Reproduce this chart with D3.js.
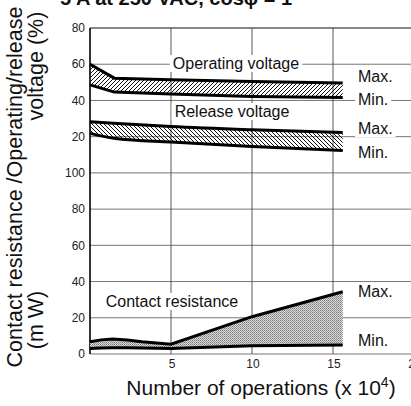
<!DOCTYPE html>
<html>
<head>
<meta charset="utf-8">
<script src="https://cdn.jsdelivr.net/npm/d3@7"></script>
<style>
  body { margin: 0; background: #fff; }
  svg { display: block; font-family: "Liberation Sans", Arial, Helvetica, sans-serif; }
</style>
</head>
<body>
<div id="root"></div>
<script>
// values
var opX   = [0, 1.5, 5, 10, 15.6];
var opMax = [60, 52.3, 51.4, 50.4, 49.6];
var opMin = [48.6, 44.6, 43.5, 42.2, 41.6];

var relX   = [0, 1.7, 5, 10, 15.6];
var relMax = [28.3, 27.3, 25.6, 23.8, 22.3];
var relMin = [21.8, 18.8, 17.0, 14.6, 12.3];

var resX   = [0, 0.7, 1.4, 2.3, 3.2, 5, 10, 15.6];
var resMax = [6.8, 7.8, 8.3, 7.7, 6.8, 5.4, 20.6, 34.4];
var resMin = [3.1, 3.3, 3.5, 3.4, 3.3, 3.1, 4.6, 5.0];

var xTicks    = [5, 10, 15, 20];
var resTicks  = [0, 20, 40, 60, 80, 100];   // lower scale (contact resistance)
var voltTicks = [20, 40, 60, 80];           // upper scale (voltage %), 0 sits on resistance 100

var width = 411, height = 406;

var svg = d3.select("#root").append("svg")
    .attr("width", width)
    .attr("height", height);

// one vertical scale: resistance r -> r, voltage v -> 100 + v
var x = d3.scaleLinear().domain([0, 20]).range([90, 414]);
var y = d3.scaleLinear().domain([0, 180]).range([354, 28]);
var yRes  = function(r) { return y(r); };
var yVolt = function(v) { return y(100 + v); };

// patterns
var defs = svg.append("defs");
defs.append("pattern")
    .attr("id", "hatchF")
    .attr("patternUnits", "userSpaceOnUse")
    .attr("width", 4).attr("height", 4)
  .append("path")
    .attr("d", "M-1,1 l2,-2 M0,4 l4,-4 M3,5 l2,-2")
    .attr("stroke", "#111").attr("stroke-width", 1);
defs.append("pattern")
    .attr("id", "hatchB")
    .attr("patternUnits", "userSpaceOnUse")
    .attr("width", 4).attr("height", 4)
  .append("path")
    .attr("d", "M-1,3 l2,2 M0,0 l4,4 M3,-1 l2,2")
    .attr("stroke", "#111").attr("stroke-width", 1);
var dots = defs.append("pattern")
    .attr("id", "dots")
    .attr("patternUnits", "userSpaceOnUse")
    .attr("width", 2).attr("height", 2);
dots.append("rect").attr("width", 2).attr("height", 2).attr("fill", "#ddd");
dots.append("rect").attr("x", 0).attr("y", 0).attr("width", 1).attr("height", 1).attr("fill", "#777");
dots.append("rect").attr("x", 1).attr("y", 1).attr("width", 1).attr("height", 1).attr("fill", "#999");

// grid
var gridVals = resTicks.concat(voltTicks.map(function(v) { return 100 + v; }));
svg.append("g").selectAll("line.h")
    .data(gridVals)
  .enter().append("line")
    .attr("x1", x(0)).attr("x2", width)
    .attr("y1", function(d) { return y(d); })
    .attr("y2", function(d) { return y(d); })
    .attr("stroke", function(d) { return d === 180 ? "#111" : "#666"; })
    .attr("stroke-width", function(d) { return d === 180 ? 1.2 : 0.9; });

svg.append("g").selectAll("line.v")
    .data(xTicks)
  .enter().append("line")
    .attr("x1", function(d) { return x(d); })
    .attr("x2", function(d) { return x(d); })
    .attr("y1", y(180)).attr("y2", y(0))
    .attr("stroke", "#444")
    .attr("stroke-width", 0.9);

// left axis line
svg.append("line")
    .attr("x1", x(0)).attr("x2", x(0))
    .attr("y1", y(180)).attr("y2", y(0))
    .attr("stroke", "#000").attr("stroke-width", 1.6);

// bands
function band(xs, lo, hi, sc, fill, curve) {
  var pts = xs.map(function(d, i) { return { x: d, lo: lo[i], hi: hi[i] }; });
  var area = d3.area()
      .x(function(d) { return x(d.x); })
      .y0(function(d) { return sc(d.lo); })
      .y1(function(d) { return sc(d.hi); })
      .curve(curve);
  svg.append("path").attr("d", area(pts)).attr("fill", fill);
  [lo, hi].forEach(function(arr) {
    var line = d3.line()
        .x(function(d) { return x(d.x); })
        .y(function(d, i) { return sc(arr[i]); })
        .curve(curve);
    svg.append("path")
        .attr("d", line(pts))
        .attr("fill", "none")
        .attr("stroke", "#000")
        .attr("stroke-width", 3);
  });
}
band(opX, opMin, opMax, yVolt, "url(#hatchF)", d3.curveLinear);
band(relX, relMin, relMax, yVolt, "url(#hatchB)", d3.curveMonotoneX);
band(resX, resMin, resMax, yRes, "url(#dots)", d3.curveLinear);

// labels with white background
function label(txt, cx, by, size, anchor) {
  var g = svg.append("g");
  var t = g.append("text")
      .attr("x", cx).attr("y", by)
      .attr("font-size", size)
      .attr("text-anchor", anchor || "middle")
      .attr("fill", "#111")
      .text(txt);
  var b = t.node().getBBox();
  g.insert("rect", "text")
      .attr("x", b.x - 3).attr("y", b.y)
      .attr("width", b.width + 6).attr("height", b.height)
      .attr("fill", "#fff");
}
label("Operating voltage", 236, 69, 16);
label("Release voltage", 232, 117, 16);
label("Contact resistance", 172, 307, 16);
label("Max.", 358, 82, 16, "start");
label("Min.", 358, 105, 16, "start");
label("Max.", 358, 134, 16, "start");
label("Min.", 358, 158, 16, "start");
label("Max.", 358, 297, 16, "start");
label("Min.", 358, 346, 16, "start");

// tick labels
var tickFont = 12;
svg.append("g").selectAll("text.r")
    .data(resTicks)
  .enter().append("text")
    .attr("x", 85)
    .attr("y", function(d) { return yRes(d); })
    .attr("dy", "0.35em")
    .attr("text-anchor", "end")
    .attr("font-size", tickFont)
    .attr("fill", "#222")
    .text(function(d) { return d; });
svg.append("g").selectAll("text.v")
    .data(voltTicks)
  .enter().append("text")
    .attr("x", 85)
    .attr("y", function(d) { return yVolt(d); })
    .attr("dy", "0.35em")
    .attr("text-anchor", "end")
    .attr("font-size", tickFont)
    .attr("fill", "#222")
    .text(function(d) { return d; });
svg.append("g").selectAll("text.x")
    .data(xTicks)
  .enter().append("text")
    .attr("x", function(d) { return x(d) + 1; })
    .attr("y", 368)
    .attr("text-anchor", "middle")
    .attr("font-size", tickFont)
    .attr("fill", "#222")
    .text(function(d) { return d; });

// title (cut off at top)
svg.append("text")
    .attr("x", 60).attr("y", 5)
    .attr("font-size", 20)
    .attr("font-weight", "bold")
    .attr("fill", "#111")
    .text("5 A at 250 VAC, cos\u03c6 = 1");

// axis titles
svg.append("text")
    .attr("transform", "translate(22,187) rotate(-90)")
    .attr("text-anchor", "middle")
    .attr("font-size", 21.5)
    .attr("fill", "#111")
    .text("Contact resistance /Operating/release");
svg.append("text")
    .attr("transform", "translate(43,320) rotate(-90)")
    .attr("text-anchor", "middle")
    .attr("font-size", 21.5)
    .attr("fill", "#111")
    .text("(m W)");
svg.append("text")
    .attr("transform", "translate(43,66) rotate(-90)")
    .attr("text-anchor", "middle")
    .attr("font-size", 21.5)
    .attr("fill", "#111")
    .text("voltage  (%)");

var xl = svg.append("text")
    .attr("x", 261).attr("y", 395)
    .attr("text-anchor", "middle")
    .attr("font-size", 21)
    .attr("fill", "#111");
xl.append("tspan").text("Number of operations (x 10");
xl.append("tspan").attr("dy", -8).attr("font-size", 14).text("4");
xl.append("tspan").attr("dy", 8).text(")");
</script>
</body>
</html>
